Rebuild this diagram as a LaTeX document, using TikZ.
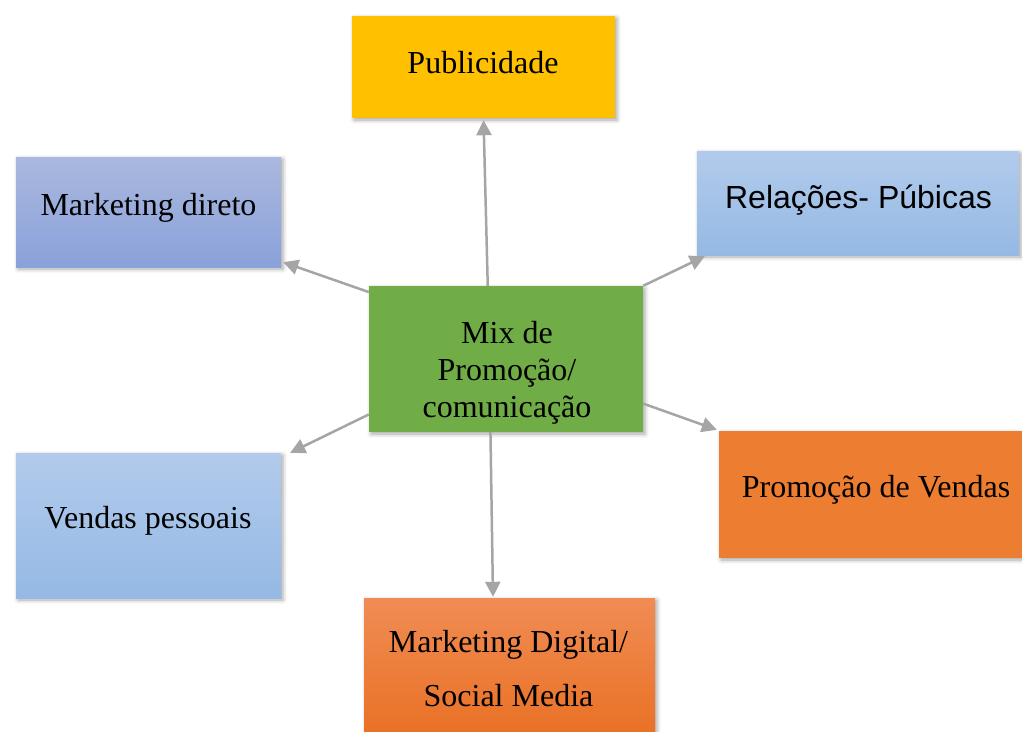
\documentclass[tikz,border=0pt]{standalone}
\usepackage{fontspec}
\setmainfont{Liberation Serif}
\newfontfamily\arialfont{Liberation Sans}
\usetikzlibrary{arrows.meta,shadows.blur,calc}

\definecolor{pubgold}{HTML}{FFC000}
\definecolor{mixgreen}{HTML}{70AD47}
\definecolor{salesorange}{HTML}{ED7D31}
\definecolor{lavtop}{HTML}{AAB8DE}
\definecolor{lavbot}{HTML}{8AA1DA}
\definecolor{skytop}{HTML}{B2CBEC}
\definecolor{skybot}{HTML}{95B9E4}
\definecolor{digtop}{HTML}{F08C54}
\definecolor{digbot}{HTML}{E86C1C}
\definecolor{linkgray}{HTML}{A5A5A5}

\tikzset{
  card/.style={rectangle, inner sep=0pt, draw=none,
    blur shadow={shadow xshift=2pt, shadow yshift=-2pt,
                 shadow blur radius=4pt, shadow opacity=35}},
  label text/.style={inner sep=0pt, anchor=base,
    font=\fontsize{32}{37}\selectfont},
  link/.style={draw=linkgray, line width=2.5pt,
    -{Triangle[length=15pt,width=15pt]}}
}

\begin{document}
\begin{tikzpicture}[x=1pt,y=-1pt]
  \useasboundingbox (0,0) rectangle (1022,731);

  % boxes
  \node[card, fill=pubgold, minimum width=263pt, minimum height=102pt]
    (pub) at (483.5,67) {};
  \node[card, top color=lavtop, bottom color=lavbot,
        minimum width=265pt, minimum height=110pt]
    (mkd) at (148.5,212) {};
  \node[card, top color=skytop, bottom color=skybot,
        minimum width=322pt, minimum height=104pt]
    (rel) at (858,203) {};
  \node[card, fill=mixgreen, minimum width=274pt, minimum height=146pt]
    (mix) at (506,359) {};
  \node[card, top color=skytop, bottom color=skybot,
        minimum width=265pt, minimum height=145pt]
    (ven) at (148.5,525.5) {};
  \node[card, fill=salesorange, minimum width=314pt, minimum height=127pt]
    (prv) at (876,494.5) {};
  \node[card, top color=digtop, bottom color=digbot,
        minimum width=291pt, minimum height=162pt]
    (mdg) at (509.5,679) {};

  % texts
  \node[label text] (pubT) at (483,73) {Publicidade};
  \node[label text] (mkdT) at (148.5,215) {Marketing direto};
  \node[label text, font=\arialfont\fontsize{32}{37}\selectfont]
    (relT) at (858.5,208) {Relações- Púbicas};
  \node[label text, anchor=center, align=center]
    (mixT) at (507,372.5) {Mix de\\Promoção/\\comunicação};
  \node[label text] (venT) at (148,528) {Vendas pessoais};
  \node[label text] (prvT) at (876,497) {Promoção de Vendas};
  \node[label text, anchor=center, align=center,
        font=\fontsize{32}{54}\selectfont]
    (mdgT) at (508.5,668.6) {Marketing Digital/\\Social Media};

  % connectors from the centre
  \draw[link, shorten >=2pt] (mix.104) -- (pub.south);
  \draw[link] (mix.154) -- ($(mkd.south east)+(2,-5)$);
  \draw[link] (mix.north east) -- ($(rel.south west)+(8,1)$);
  \draw[link] (mix.202) -- ($(ven.north east)+(9,0)$);
  \draw[link] (mix.-18) -- ($(prv.north west)+(-2,-1)$);
  \draw[link] (mix.-102) -- ($(mdg.north)+(-16.5,-1)$);
\end{tikzpicture}
\end{document}
